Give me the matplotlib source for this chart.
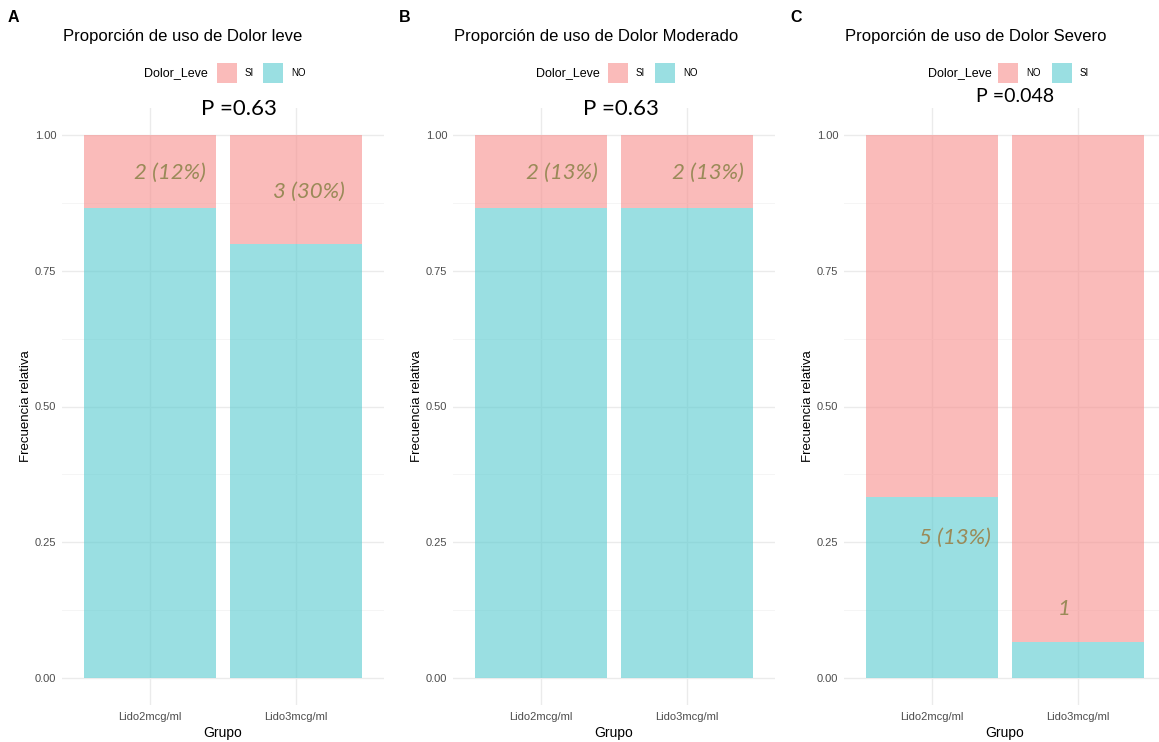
import matplotlib.pyplot as plt
from matplotlib.patches import Rectangle
import numpy as np

plt.rcParams["font.family"] = ["Liberation Sans", "DejaVu Sans"]

grupos = ["Lido2mcg/ml", "Lido3mcg/ml"]
n_total = [15, 15]

# cuentas de la categoría superior / inferior de cada barra apilada
si_leve = [2, 3]
si_moderado = [2, 2]
si_severo = [5, 1]

titulos = ["Proporción de uso de Dolor leve",
           "Proporción de uso de Dolor Moderado",
           "Proporción de uso de Dolor Severo"]
letras = ["A", "B", "C"]
p_valores = ["P =0.63", "P =0.63", "P =0.048"]
etiquetas = [["2 (12%)", "3 (30%)"], ["2 (13%)", "2 (13%)"], ["5 (13%)", "1"]]
leyendas = [["SI", "NO"], ["SI", "NO"], ["NO", "SI"]]

ROSA = (247 / 255, 142 / 255, 140 / 255)
CIAN = (87 / 255, 202 / 255, 207 / 255)
ALFA = 0.6
OLIVA = "#9A8A58"
GRIS = "#4D4D4D"

W, H = 1159, 742
fig = plt.figure(figsize=(W / 100, H / 100), dpi=100)


def fx(px):
    return px / W


def fy(py):
    return 1 - py / H


def panel(i, left, abajo, arriba, pos_etq, leg, p_pos, p_size):
    ax = fig.add_axes([fx(left), fy(705), fx(322), (705 - 108) / H])
    x = np.arange(1, 3)
    prop_abajo = np.array(abajo) / np.array(n_total)
    prop_arriba = np.array(arriba) / np.array(n_total)
    ax.bar(x, prop_abajo, width=0.9, color=CIAN, alpha=ALFA, lw=0, zorder=2)
    ax.bar(x, prop_arriba, bottom=prop_abajo, width=0.9, color=ROSA,
           alpha=ALFA, lw=0, zorder=2)
    ax.set_xlim(0.4, 2.6)
    ax.set_ylim(-0.05, 1.05)
    ax.set_yticks([0, 0.25, 0.5, 0.75, 1.0])
    ax.set_yticklabels(["0.00", "0.25", "0.50", "0.75", "1.00"])
    ax.set_yticks([0.125, 0.375, 0.625, 0.875], minor=True)
    ax.set_xticks(x)
    ax.set_xticklabels(grupos)
    ax.grid(True, which="major", color="#EBEBEB", lw=1.0, zorder=1)
    ax.grid(True, which="minor", axis="y", color="#F5F5F5", lw=0.7, zorder=1)
    ax.tick_params(axis="both", which="both", length=0, labelsize=8,
                   labelcolor=GRIS, pad=4)
    ax.tick_params(axis="x", pad=5)
    for s in ax.spines.values():
        s.set_visible(False)
    ax.set_ylabel("Frecuencia relativa", fontsize=9.5, labelpad=2)
    ax.set_xlabel("Grupo", fontsize=10, labelpad=3)

    for (xt, yt), txt in zip(pos_etq, etiquetas[i]):
        ax.text(xt, yt, txt, ha="center", va="center", fontsize=16,
                family="Lato", style="italic", color=OLIVA, zorder=3)

    # encabezado: letra, título, leyenda y valor p
    fig.text(fx(left - 54), fy(18), letras[i], fontsize=11.5,
             fontweight="bold", va="center", ha="left")
    fig.text(fx(left + 1), fy(37), titulos[i], fontsize=12,
             va="center", ha="left")
    txt_x, k1, k2 = leg
    fig.text(fx(txt_x), fy(73), "Dolor_Leve", fontsize=9,
             ha="right", va="center")
    for kx, col, lab in [(k1, ROSA, leyendas[i][0]), (k2, CIAN, leyendas[i][1])]:
        fig.patches.append(Rectangle((fx(kx), fy(83)), fx(20), 20 / H,
                                     transform=fig.transFigure,
                                     color=col, alpha=ALFA, lw=0))
        fig.text(fx(kx + 28), fy(73), lab, fontsize=7, ha="left",
                 va="center")
    fig.text(fx(p_pos[0]), fy(p_pos[1]), p_valores[i], fontsize=p_size,
             family="Lato", ha="center", va="center")
    return ax


panel(0, 62, [n - s for n, s in zip(n_total, si_leve)], si_leve,
      [(1.14, 0.93), (2.09, 0.895)], (208, 217, 263), (239, 109), 16)
panel(1, 453, [n - s for n, s in zip(n_total, si_moderado)], si_moderado,
      [(1.145, 0.93), (2.145, 0.93)], (600, 608, 655), (621, 109), 16)
panel(2, 844, si_severo, [n - s for n, s in zip(n_total, si_severo)],
      [(1.157, 0.258), (1.906, 0.127)], (992, 998, 1052), (1015, 96), 14)

fig.savefig("out.png", dpi=100)
